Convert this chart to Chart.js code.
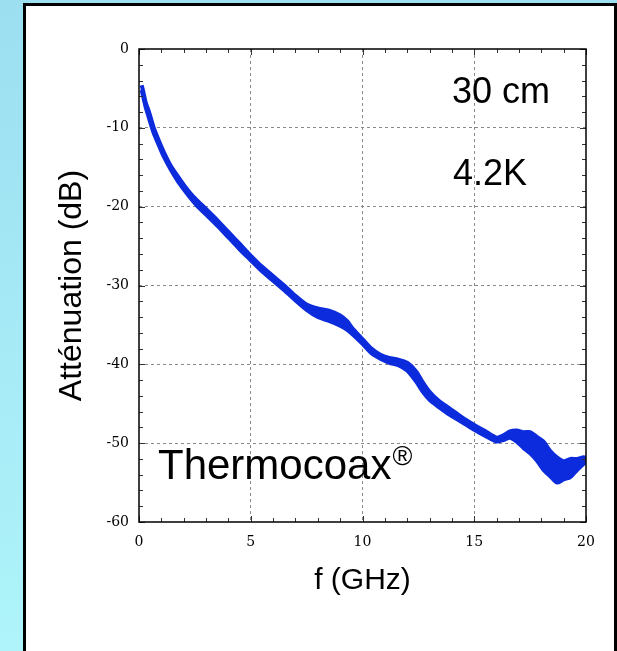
<!DOCTYPE html>
<html>
<head>
<meta charset="utf-8">
<script src="https://cdn.jsdelivr.net/npm/chart.js@4/dist/chart.umd.min.js"></script>
<style>
  html, body { margin: 0; padding: 0; }
  body {
    width: 617px; height: 651px; overflow: hidden; position: relative;
    background: linear-gradient(to bottom, #9cdff1, #aef4fa);
  }
  #box {
    position: absolute; left: 23px; top: 3px; width: 588px; height: 700px;
    border: 3px solid #000; background: #fff;
  }
  #chart { position: absolute; left: 0; top: 0; }
</style>
</head>
<body>
<div id="box"></div>
<canvas id="chart" width="617" height="651"></canvas>
<script>
// Attenuation of 30 cm Thermocoax at 4.2 K
const freq = [0.12, 0.2, 0.3, 0.45, 0.65, 0.9, 1.1, 1.4, 1.7, 2.0, 2.3, 2.6, 3.0, 3.5, 4.0, 4.5,
    5.0, 5.5, 6.0, 6.5, 7.0, 7.5, 8.0, 8.5, 9.0, 9.3, 9.6, 10.0, 10.4, 10.8, 11.2, 11.6,
    12.0, 12.4, 12.7, 13.0, 13.4, 13.8, 14.2, 14.6, 15.0, 15.5, 16.0, 16.3, 16.6, 16.9,
    17.2, 17.5, 17.8, 18.1, 18.4, 18.7, 19.0, 19.3, 19.6, 19.9, 20.0];
// upper and lower edge of the (noisy) trace, dB
const attUpper = [-4.6, -5.5, -6.8, -8.0, -9.9, -11.7, -13.0, -14.7, -16.0, -17.2, -18.3, -19.2, -20.3, -21.7, -23.2, -24.7,
    -26.2, -27.6, -28.8, -30.0, -31.3, -32.4, -32.9, -33.2, -33.8, -34.5, -35.6, -36.8, -38.0, -38.8, -39.2, -39.4,
    -39.8, -40.9, -42.3, -43.5, -44.6, -45.4, -46.2, -47.0, -47.7, -48.5, -49.3, -49.0, -48.5, -48.4,
    -48.6, -48.6, -49.2, -49.8, -51.0, -51.8, -52.3, -52.0, -52.0, -51.8, -51.9];
const attLower = [-5.2, -6.2, -7.4, -8.8, -10.6, -12.3, -13.6, -15.2, -16.6, -17.8, -18.9, -19.9, -21.0, -22.4, -23.9, -25.4,
    -26.8, -28.2, -29.4, -30.6, -31.9, -33.1, -34.0, -34.5, -35.1, -35.6, -36.3, -37.4, -38.6, -39.3, -39.8, -40.1,
    -40.8, -42.2, -43.5, -44.5, -45.4, -46.2, -46.9, -47.6, -48.3, -49.1, -49.8, -49.6, -49.3, -49.8,
    -50.6, -51.3, -52.2, -53.4, -54.2, -55.0, -54.6, -54.3, -53.4, -52.6, -52.4];

const xMajor = [0, 5, 10, 15, 20];
const yMajor = [0, -10, -20, -30, -40, -50, -60];

// text placed in data coordinates
const notes = [
    { text: '30 cm', x: 14.0, y: -6.85, size: 36 },
    { text: '4.2K', x: 14.05, y: -17.25, size: 36 },
    { text: 'Thermocoax', x: 0.85, y: -54.5, size: 42, sup: '\u00AE' }
];

const blue = '#0b2bdc';
const serif = '"DejaVu Serif", "Times New Roman", serif';
const sans = '"Liberation Sans", Arial, sans-serif';

const toPts = arr => freq.map((f, i) => ({ x: f, y: arr[i] }));

// frame, inside tick marks and the text notes
const framePlugin = {
    id: 'frame',
    afterDatasetsDraw(chart) {
        const { ctx, chartArea: a, scales: { x, y } } = chart;
        ctx.save();
        ctx.strokeStyle = '#333';
        ctx.lineWidth = 1;
        ctx.beginPath();
        for (let v = 0; v <= 20; v++) {
            const px = Math.round(x.getPixelForValue(v)) + 0.5;
            const len = v % 5 === 0 ? 6 : 4;
            ctx.moveTo(px, a.bottom); ctx.lineTo(px, a.bottom - len);
            ctx.moveTo(px, a.top); ctx.lineTo(px, a.top + len);
        }
        for (let v = 0; v >= -60; v -= 2) {
            const py = Math.round(y.getPixelForValue(v)) + 0.5;
            const len = v % 10 === 0 ? 6 : 4;
            ctx.moveTo(a.left, py); ctx.lineTo(a.left + len, py);
            ctx.moveTo(a.right, py); ctx.lineTo(a.right - len, py);
        }
        ctx.stroke();
        ctx.strokeStyle = '#000';
        ctx.lineWidth = 1.5;
        ctx.strokeRect(a.left, a.top, a.right - a.left, a.bottom - a.top);

        ctx.fillStyle = '#000';
        ctx.textBaseline = 'alphabetic';
        ctx.textAlign = 'left';
        notes.forEach(n => {
            const px = x.getPixelForValue(n.x);
            const py = y.getPixelForValue(n.y);
            ctx.font = n.size + 'px ' + sans;
            ctx.fillText(n.text, px, py);
            if (n.sup) {
                const w = ctx.measureText(n.text).width;
                ctx.font = '27px ' + sans;
                ctx.fillText(n.sup, px + w + 1, py - 14);
            }
        });
        ctx.restore();
    }
};

new Chart(document.getElementById('chart').getContext('2d'), {
    type: 'line',
    data: {
        datasets: [{
            data: toPts(attUpper),
            borderColor: blue,
            backgroundColor: blue,
            borderWidth: 4,
            pointRadius: 0,
            tension: 0.25,
            fill: false
        }, {
            data: toPts(attLower),
            borderColor: blue,
            backgroundColor: blue,
            borderWidth: 4,
            pointRadius: 0,
            tension: 0.25,
            fill: '-1'
        }]
    },
    options: {
        responsive: false,
        animation: false,
        devicePixelRatio: 1,
        layout: { padding: { left: 26, top: 49, right: 31, bottom: 0 } },
        plugins: { legend: { display: false }, tooltip: { enabled: false } },
        scales: {
            x: {
                type: 'linear',
                min: 0, max: 20,
                afterBuildTicks: s => { s.ticks = xMajor.map(v => ({ value: v })); },
                afterFit: s => { s.height = 129; },
                ticks: { color: '#000', font: { family: serif, size: 14 }, padding: 12 },
                grid: {
                    drawTicks: false,
                    color: c => (c.tick.value === 0 || c.tick.value === 20) ? 'rgba(0,0,0,0)' : '#8a8a8a'
                },
                border: { display: false, dash: [3, 3] },
                title: {
                    display: true, text: 'f (GHz)', color: '#000',
                    font: { family: sans, size: 30 }, padding: { top: 0, bottom: 52 }
                }
            },
            y: {
                type: 'linear',
                min: -60, max: 0,
                afterBuildTicks: s => { s.ticks = yMajor.map(v => ({ value: v })); },
                afterFit: s => { s.width = 113; },
                ticks: { color: '#000', font: { family: serif, size: 14 }, padding: 10 },
                grid: {
                    drawTicks: false,
                    color: c => (c.tick.value === 0 || c.tick.value === -60) ? 'rgba(0,0,0,0)' : '#8a8a8a'
                },
                border: { display: false, dash: [3, 3] },
                title: {
                    display: true, text: 'Atténuation (dB)', color: '#000',
                    font: { family: sans, size: 32 }, padding: { top: 27, bottom: 0 }
                }
            }
        }
    },
    plugins: [framePlugin]
});
</script>
</body>
</html>
